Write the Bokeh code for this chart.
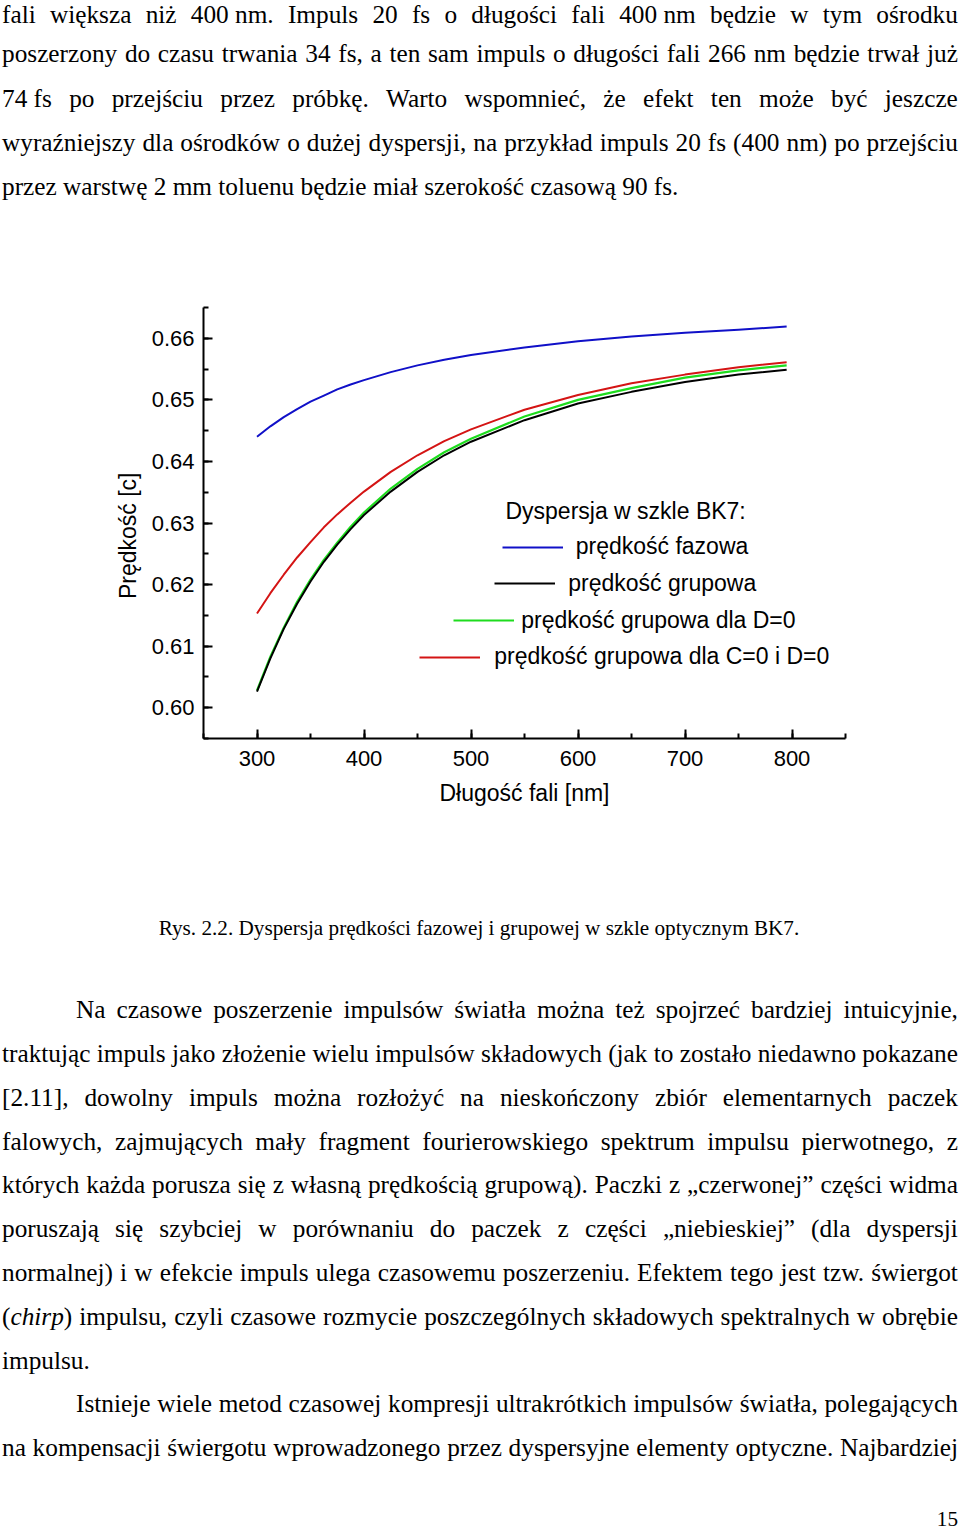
from bokeh.plotting import figure
from bokeh.models import (Range1d, Div, Legend, LegendItem, Label,
                          SingleIntervalTicker, PrintfTickFormatter)
from bokeh.layouts import column
from bokeh.embed import file_html
from bokeh.resources import INLINE

# ---------------- data ----------------
wavelength_nm = [300, 312.5, 325, 337.5, 350, 362.5, 375, 387.5, 400, 425, 450, 475,
                 500, 550, 600, 650, 700, 750, 795]
phase_velocity = [0.6440, 0.6457, 0.6472, 0.6485, 0.6497, 0.6507, 0.6517, 0.6525, 0.6532,
                  0.6545, 0.6556, 0.6565, 0.6573, 0.6585, 0.6595, 0.6603,
                  0.6609, 0.6614, 0.6619]
group_velocity = [0.6026, 0.6080, 0.6128, 0.6169, 0.6205, 0.6237, 0.6265, 0.6290, 0.6313,
                  0.6351, 0.6383, 0.6410, 0.6432, 0.6467, 0.6494, 0.6513,
                  0.6529, 0.6541, 0.6549]
group_velocity_D0 = [0.6028, 0.6083, 0.6130, 0.6172, 0.6208, 0.6240, 0.6268, 0.6294, 0.6317,
                     0.6356, 0.6388, 0.6415, 0.6437, 0.6473, 0.6500, 0.6519,
                     0.6536, 0.6548, 0.6556]
group_velocity_C0D0 = [0.6153, 0.6186, 0.6216, 0.6244, 0.6269, 0.6293, 0.6314, 0.6333, 0.6351,
                       0.6383, 0.6410, 0.6433, 0.6452, 0.6484, 0.6508, 0.6527,
                       0.6541, 0.6553, 0.6561]

series_labels = ["prędkość fazowa", "prędkość grupowa",
                 "prędkość grupowa dla D=0", "prędkość grupowa dla C=0 i D=0"]
legend_title = "Dyspersja w szkle BK7:"
x_label = "Długość fali [nm]"
y_label = "Prędkość [c]"

top_lines = [
    "fali większa niż 400\u00a0nm. Impuls 20 fs o długości fali 400\u00a0nm będzie w tym ośrodku",
    "poszerzony do czasu trwania 34 fs, a ten sam impuls o długości fali 266 nm będzie trwał już",
    "74\u00a0fs po przejściu przez próbkę. Warto wspomnieć, że efekt ten może być jeszcze",
    "wyraźniejszy dla ośrodków o dużej dyspersji, na przykład impuls 20 fs (400 nm) po przejściu",
    "przez warstwę 2 mm toluenu będzie miał szerokość czasową 90 fs.",
]
top_justify = [True, True, True, True, False]

caption = "Rys. 2.2. Dyspersja prędkości fazowej i grupowej w szkle optycznym BK7."

bottom_lines = [
    "Na czasowe poszerzenie impulsów światła można też spojrzeć bardziej intuicyjnie,",
    "traktując impuls jako złożenie wielu impulsów składowych (jak to zostało niedawno pokazane",
    "[2.11], dowolny impuls można rozłożyć na nieskończony zbiór elementarnych paczek",
    "falowych, zajmujących mały fragment fourierowskiego spektrum impulsu pierwotnego, z",
    "których każda porusza się z własną prędkością grupową). Paczki z „czerwonej” części widma",
    "poruszają się szybciej w porównaniu do paczek z części „niebieskiej” (dla dyspersji",
    "normalnej) i w efekcie impuls ulega czasowemu poszerzeniu. Efektem tego jest tzw. świergot",
    "(<i>chirp</i>) impulsu, czyli czasowe rozmycie poszczególnych składowych spektralnych w obrębie",
    "impulsu.",
    "Istnieje wiele metod czasowej kompresji ultrakrótkich impulsów światła, polegających",
    "na kompensacji świergotu wprowadzonego przez dyspersyjne elementy optyczne. Najbardziej",
]
bottom_justify = [True, True, True, True, True, True, True, True, False, True, True]
bottom_indent = [True, False, False, False, False, False, False, False, False, True, False]
page_number = "15"

# ---------------- text blocks ----------------
FS = 25.3
SERIF = "'Liberation Serif', 'Times New Roman', serif"
ASCENT, DESCENT = 0.891, 0.216


def baseline_offset(lh):
    # distance from the top of a line box (line-height lh, unitless) to the baseline
    return ((lh - (ASCENT + DESCENT)) / 2 + ASCENT) * FS


def line_html(text, left, baseline, width, justify, lh=1.0):
    top = baseline - baseline_offset(lh)
    if justify:
        spans = "".join(f"<span>{w}</span>" for w in text.split(" "))
        return (f'<div style="position:absolute;left:{left}px;top:{top:.2f}px;width:{width}px;'
                f'height:{lh * FS:.2f}px;line-height:{lh};display:flex;justify-content:space-between;'
                f'white-space:nowrap;">{spans}</div>')
    return (f'<div style="position:absolute;left:{left}px;top:{top:.2f}px;'
            f'line-height:{lh};white-space:nowrap;">{text}</div>')


TOP_H = 228
top_baselines = [23.0, 62.6, 106.7, 150.8, 194.9]
top_html = []
for t, j, base in zip(top_lines, top_justify, top_baselines):
    top_html.append(line_html(t, 2, base, 956, j))
div_top = Div(
    text=(f'<div style="position:relative;width:944px;height:{TOP_H}px;font-family:{SERIF};'
          f'font-size:{FS}px;color:#000;">' + "".join(top_html) + "</div>"),
    width=944, height=TOP_H, margin=0, styles={"overflow": "visible"})

FIG_H = 660
BOT_Y = TOP_H + FIG_H
BOT_H = 640
bot_html = []
for i, (t, j, ind) in enumerate(zip(bottom_lines, bottom_justify, bottom_indent)):
    base = 1018.3 + 43.8 * i - BOT_Y
    left = 76 if ind else 2
    width = 958 - left
    bot_html.append(line_html(t, left, base, width, j))
CFS = 21.2
CASC = ((1 - (ASCENT + DESCENT)) / 2 + ASCENT) * CFS
bot_html.append(
    f'<div style="position:absolute;left:79px;top:{935.5 - CASC - BOT_Y:.1f}px;width:800px;'
    f'text-align:center;font-size:{CFS}px;line-height:1;white-space:nowrap;">{caption}</div>')
bot_html.append(
    f'<div style="position:absolute;left:858px;top:{1527 - CASC - BOT_Y:.1f}px;width:100px;'
    f'text-align:right;font-size:{CFS}px;line-height:1;">{page_number}</div>')
div_bottom = Div(
    text=(f'<div style="position:relative;width:944px;height:{BOT_H}px;font-family:{SERIF};'
          f'font-size:{FS}px;color:#000;">' + "".join(bot_html) + "</div>"),
    width=944, height=BOT_H, margin=0, styles={"overflow": "visible"})

# ---------------- chart ----------------
SANS = "Liberation Sans"
p = figure(width=944, height=FIG_H, x_range=Range1d(250, 850), y_range=Range1d(0.595, 0.665),
           output_backend="svg", toolbar_location=None,
           min_border_left=203, min_border_right=99, min_border_top=79, min_border_bottom=150)
p.xgrid.visible = False
p.ygrid.visible = False
p.outline_line_color = None
p.background_fill_color = "white"
p.border_fill_color = "white"

p.xaxis.ticker = SingleIntervalTicker(interval=100, num_minor_ticks=2)
p.yaxis.ticker = SingleIntervalTicker(interval=0.01, num_minor_ticks=2)
p.yaxis.formatter = PrintfTickFormatter(format="%.2f")
for ax in (p.xaxis, p.yaxis):
    ax.axis_line_width = 2
    ax.axis_line_color = "black"
    ax.major_tick_in = 9
    ax.major_tick_out = 0
    ax.minor_tick_in = 5
    ax.minor_tick_out = 0
    ax.major_tick_line_width = 2
    ax.minor_tick_line_width = 2
    ax.major_tick_line_color = "black"
    ax.minor_tick_line_color = "black"
    ax.major_label_text_font = SANS
    ax.major_label_text_font_size = "22px"
    ax.major_label_text_color = "black"
    ax.axis_label_text_font = SANS
    ax.axis_label_text_font_size = "23px"
    ax.axis_label_text_font_style = "normal"
    ax.axis_label_text_color = "black"
p.xaxis.axis_label = x_label
# trailing no-break spaces shift the centred label slightly down, as in the reference
p.yaxis.axis_label = y_label + "\u00a0" * 4
p.xaxis.major_label_standoff = 12
p.yaxis.major_label_standoff = 9
p.xaxis.axis_label_standoff = 11
p.yaxis.axis_label_standoff = 8

colors = ["#1010c8", "#000000", "#1edc1e", "#d41414"]
r_blue = p.line(wavelength_nm, phase_velocity, line_color=colors[0], line_width=2, line_join="round")
r_red = p.line(wavelength_nm, group_velocity_C0D0, line_color=colors[3], line_width=2, line_join="round")
r_green = p.line(wavelength_nm, group_velocity_D0, line_color=colors[2], line_width=2.2, line_join="round")
r_black = p.line(wavelength_nm, group_velocity, line_color=colors[1], line_width=2, line_join="round")

p.add_layout(Label(x=532.2, y=0.6319, text=legend_title, text_font=SANS, text_font_size="23px",
                   text_baseline="middle", text_align="left", text_color="black"))

legend_specs = [
    (series_labels[0], r_blue, (298.7, 176.3), 13),
    (series_labels[1], r_black, (291.3, 139.7), 13),
    (series_labels[2], r_green, (250.3, 103.0), 7),
    (series_labels[3], r_red, (216.3, 66.3), 14),
]
for lab, rend, loc, standoff in legend_specs:
    leg = Legend(items=[LegendItem(label=lab, renderers=[rend])], location=loc,
                 glyph_width=61, glyph_height=30, label_height=30, label_standoff=standoff,
                 padding=0, margin=0, spacing=0, border_line_color=None,
                 background_fill_alpha=0, label_text_font=SANS,
                 label_text_font_size="23px", label_text_color="black")
    p.add_layout(leg)

layout = column(div_top, p, div_bottom)
with open("out.html", "w", encoding="utf-8") as f:
    f.write(file_html(layout, INLINE))
